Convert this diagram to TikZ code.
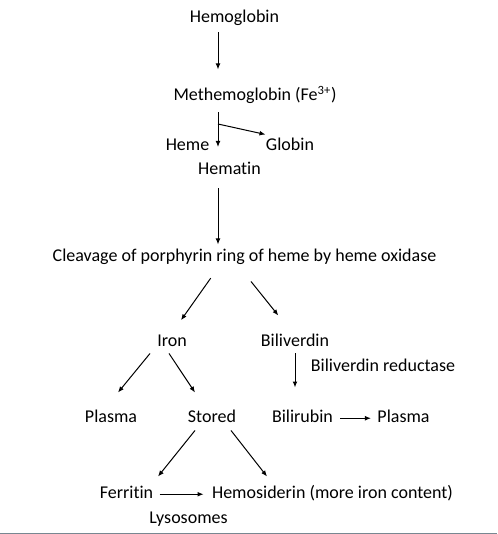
\documentclass[tikz,border=0pt]{standalone}
\usepackage{fontspec}
\setmainfont{Carlito}[Ligatures=NoCommon]
\usetikzlibrary{arrows.meta,calc}

\begin{document}
\begin{tikzpicture}[x=0.75pt,y=-0.75pt,line width=0.75pt,
    >={Latex[length=4.5pt,width=3.6pt]},
    lbl/.style={anchor=base,inner sep=0pt,text height=8.25pt,text depth=2.6pt,
      font=\fontsize{13.5}{16}\selectfont}]
    \useasboundingbox (0,0) rectangle (497,534);
    \node[lbl] (hemo) at (234.5,23) {Hemoglobin};
    \node[lbl] (methemo) at (255,101) {Methemoglobin (Fe\textsuperscript{3+})};
    \node[lbl] (heme) at (187.5,151) {Heme};
    \node[lbl] (globin) at (290,151) {Globin};
    \node[lbl] (hematin) at (229.5,175) {Hematin};
    \node[lbl] (cleav) at (244.5,261) {Cleavage of porphyrin ring of heme by heme oxidase};
    \node[lbl] (iron) at (172,346) {Iron};
    \node[lbl] (biliv) at (295,346) {Biliverdin};
    \node[lbl] (bvr) at (383,371) {Biliverdin reductase};
    \node[lbl] (plasma_fe) at (111,422) {Plasma};
    \node[lbl] (stored) at (212,422) {Stored};
    \node[lbl] (bilirub) at (302.5,422) {Bilirubin};
    \node[lbl] (plasma_br) at (403.5,422) {Plasma};
    \node[lbl] (ferritin) at (126.5,498) {Ferritin};
    \node[lbl] (hemosid) at (332.5,498) {Hemosiderin (more iron content)};
    \node[lbl] (lyso) at (188.5,523) {Lysosomes};
    \coordinate (trunk) at (218,0);
    \coordinate (split) at (218,124);
    \draw[->,shorten <=4.1pt,shorten >=15pt] (hemo.south -| trunk) -- (methemo.north -| trunk);
    \draw[->,shorten <=5.6pt,shorten >=3pt] (methemo.south -| trunk) -- (heme.base -| trunk);
    \draw[->] (split) -- ([yshift=3.75pt]globin.north west);
    \draw[->,shorten <=7.1pt,shorten >=3.75pt] (hematin.south -| trunk) -- (cleav.north -| trunk);
    \draw[->] ($(cleav.south)+(-33.8,13.2)$) -- ($(iron.north)+(9,-14.3)$);
    \draw[->] ($(cleav.south)+(6.5,16.5)$) -- ($(biliv.north)+(-16.7,-19)$);
    \draw[->,shorten <=2.6pt,shorten >=17.25pt] (biliv.south) -- (biliv.south |- bilirub.north);
    \draw[->] ($(iron.south)+(-22,3.5)$) -- ($(plasma_fe.north)+(7,-18)$);
    \draw[->] ($(iron.south)+(-3,3.5)$) -- ($(stored.north)+(-17,-18)$);
    \draw[->,shorten <=5.25pt,shorten >=4.5pt] (bilirub.east) -- (plasma_br.west);
    \draw[->] ($(stored.south)+(-17,4.5)$) -- ($(ferritin.north)+(31.5,-10)$);
    \draw[->] ($(stored.south)+(19,4.5)$) -- ($(hemosid.north)+(-65.5,-10)$);
    \draw[->,shorten <=4.5pt,shorten >=6pt] (ferritin.east) -- (hemosid.west);
    % bottom edge of the figure
    \draw[color={rgb,255:red,120;green,135;blue,145}] (0,533.5) -- (497,533.5);
\end{tikzpicture}
\end{document}
